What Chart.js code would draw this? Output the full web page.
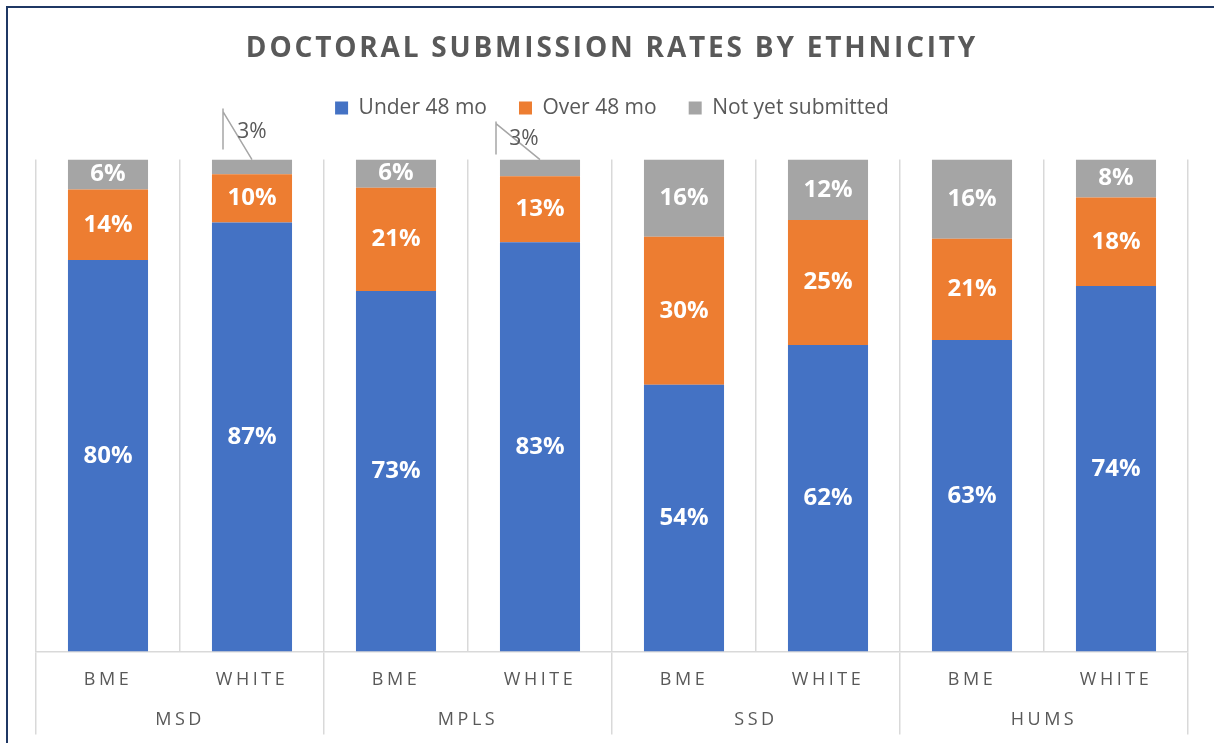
<!DOCTYPE html>
<html>
<head>
<meta charset="utf-8">
<title>Doctoral submission rates by ethnicity</title>
<script src="https://cdn.jsdelivr.net/npm/chart.js@4.4.1/dist/chart.umd.min.js"></script>
<style>
  html, body { margin: 0; padding: 0; background: #fff; overflow: hidden; }
  #wrap { position: relative; width: 1214px; height: 743px; }
  #chart { display: block; }
  #frame {
    position: absolute; left: 6px; top: 6px; right: -20px; bottom: -20px;
    border-left: 2px solid #1f3864; border-top: 2px solid #1f3864;
    pointer-events: none;
  }
</style>
</head>
<body>
<div id="wrap">
  <canvas id="chart" width="1214" height="743"></canvas>
  <div id="frame"></div>
</div>
<script>
'use strict';

// Faculties (outer axis level) and ethnicity (inner level, one bar each)
const groups = ['MSD', 'MPLS', 'SSD', 'HUMS'];
const ethnicityLabels = ['BME', 'WHITE', 'BME', 'WHITE', 'BME', 'WHITE', 'BME', 'WHITE'];

// Share of doctoral students, %
const under48 = [79.6, 87.2, 73.3, 83.2, 54.2, 62.3, 63.3, 74.3];
const over48 = [14.3, 9.8, 21.0, 13.4, 30.1, 25.4, 20.6, 18.0];
const notYet = [6.1, 3.0, 5.7, 3.4, 15.7, 12.3, 16.1, 7.7];

const TEXT = '#595959';
const GRID = '#d9d9d9';
const FONT = 'Open Sans';

// Excel-style callouts for the tiny segments that do not fit their label
const callouts = {
  1: { dx: 0, dy: -28, lineX: -29, lineTop: -51, lineBottom: -10, diagFrom: -48 },
  3: { dx: -16, dy: -21, lineX: -44, lineTop: -38, lineBottom: -5, diagFrom: -36 },
};

// letter-spaced title and axis labels, plain legend
const textSpacing = {
  id: 'textSpacing',
  afterInit(chart) {
    const legendDraw = chart.legend.draw;
    chart.legend.draw = function (area) {
      this.ctx.save();
      this.ctx.letterSpacing = '0px';
      legendDraw.call(this, area);
      this.ctx.restore();
    };
    const titleDraw = chart.titleBlock.draw;
    chart.titleBlock.draw = function (area) {
      this.ctx.save();
      this.ctx.letterSpacing = '2.8px';
      titleDraw.call(this, area);
      this.ctx.restore();
    };
    // extra room between legend and plot
    const legendFit = chart.legend.fit;
    chart.legend.fit = function () {
      legendFit.call(this);
      this.height += 31;
    };
  },
  beforeDraw(chart) {
    chart.ctx.letterSpacing = '3.5px';
  },
  beforeDatasetsDraw(chart) {
    chart.ctx.letterSpacing = '0px';
  },
};

const segmentLabels = {
  id: 'segmentLabels',
  afterDatasetsDraw(chart) {
    const ctx = chart.ctx;
    ctx.save();
    ctx.textAlign = 'center';
    ctx.textBaseline = 'middle';
    chart.data.datasets.forEach((ds, di) => {
      chart.getDatasetMeta(di).data.forEach((bar, i) => {
        const v = ds.data[i];
        const text = Math.round(v) + '%';
        const c = callouts[i];
        if (v < 5 && c) {
          ctx.strokeStyle = '#a6a6a6';
          ctx.lineWidth = 1.5;
          ctx.beginPath();
          ctx.moveTo(bar.x + c.lineX, bar.y + c.lineTop);
          ctx.lineTo(bar.x + c.lineX, bar.y + c.lineBottom);
          ctx.moveTo(bar.x + c.lineX, bar.y + c.diagFrom);
          ctx.lineTo(bar.x, bar.y);
          ctx.stroke();
          ctx.font = `21px "${FONT}"`;
          ctx.fillStyle = TEXT;
          ctx.fillText(text, bar.x + c.dx, bar.y + c.dy);
        } else {
          ctx.font = `bold 24px "${FONT}"`;
          ctx.fillStyle = '#ffffff';
          ctx.fillText(text, bar.x, (bar.y + bar.base) / 2);
        }
      });
    });
    ctx.restore();
  },
};

new Chart(document.getElementById('chart'), {
  type: 'bar',
  data: {
    labels: ethnicityLabels,
    datasets: [
      { label: 'Under 48 mo', data: under48, backgroundColor: '#4472c4' },
      { label: 'Over 48 mo', data: over48, backgroundColor: '#ed7d31' },
      { label: 'Not yet submitted', data: notYet, backgroundColor: '#a5a5a5' },
    ],
  },
  options: {
    responsive: false,
    animation: false,
    devicePixelRatio: 1,
    datasets: { bar: { categoryPercentage: 1, barPercentage: 0.556 } },
    layout: { padding: { left: 36, right: 26, top: 0, bottom: 12 } },
    plugins: {
      title: {
        display: true,
        text: 'DOCTORAL SUBMISSION RATES BY ETHNICITY',
        color: TEXT,
        font: { family: FONT, size: 28, weight: 'bold' },
        padding: { top: 32, bottom: 0 },
      },
      legend: {
        labels: {
          color: TEXT,
          font: { family: FONT, size: 21 },
          boxWidth: 13,
          boxHeight: 13,
          padding: 32,
        },
      },
      tooltip: { enabled: false },
    },
    scales: {
      x: {
        stacked: true,
        grid: {
          offset: true,
          color: GRID,
          lineWidth: 1.5,
          tickLength: 83,
          // only faculty boundaries run down through the label rows
          tickColor: (c) => (c.index === undefined || c.index % 2 === 0) ? GRID : 'rgba(0,0,0,0)',
        },
        border: { color: GRID, width: 1.5 },
        ticks: {
          color: TEXT,
          font: { family: FONT, size: 18 },
          mirror: true,
          padding: -39,
          autoSkip: false,
          maxRotation: 0,
        },
      },
      x2: {
        type: 'category',
        labels: groups,
        offset: true,
        position: 'bottom',
        weight: 1,
        grid: { display: false, drawTicks: true, tickLength: 53 },
        border: { display: false },
        ticks: {
          color: TEXT,
          font: { family: FONT, size: 18 },
          padding: 0,
          autoSkip: false,
          maxRotation: 0,
        },
      },
      y: { stacked: true, min: 0, max: 100, display: false },
    },
  },
  plugins: [textSpacing, segmentLabels],
});
</script>
</body>
</html>
